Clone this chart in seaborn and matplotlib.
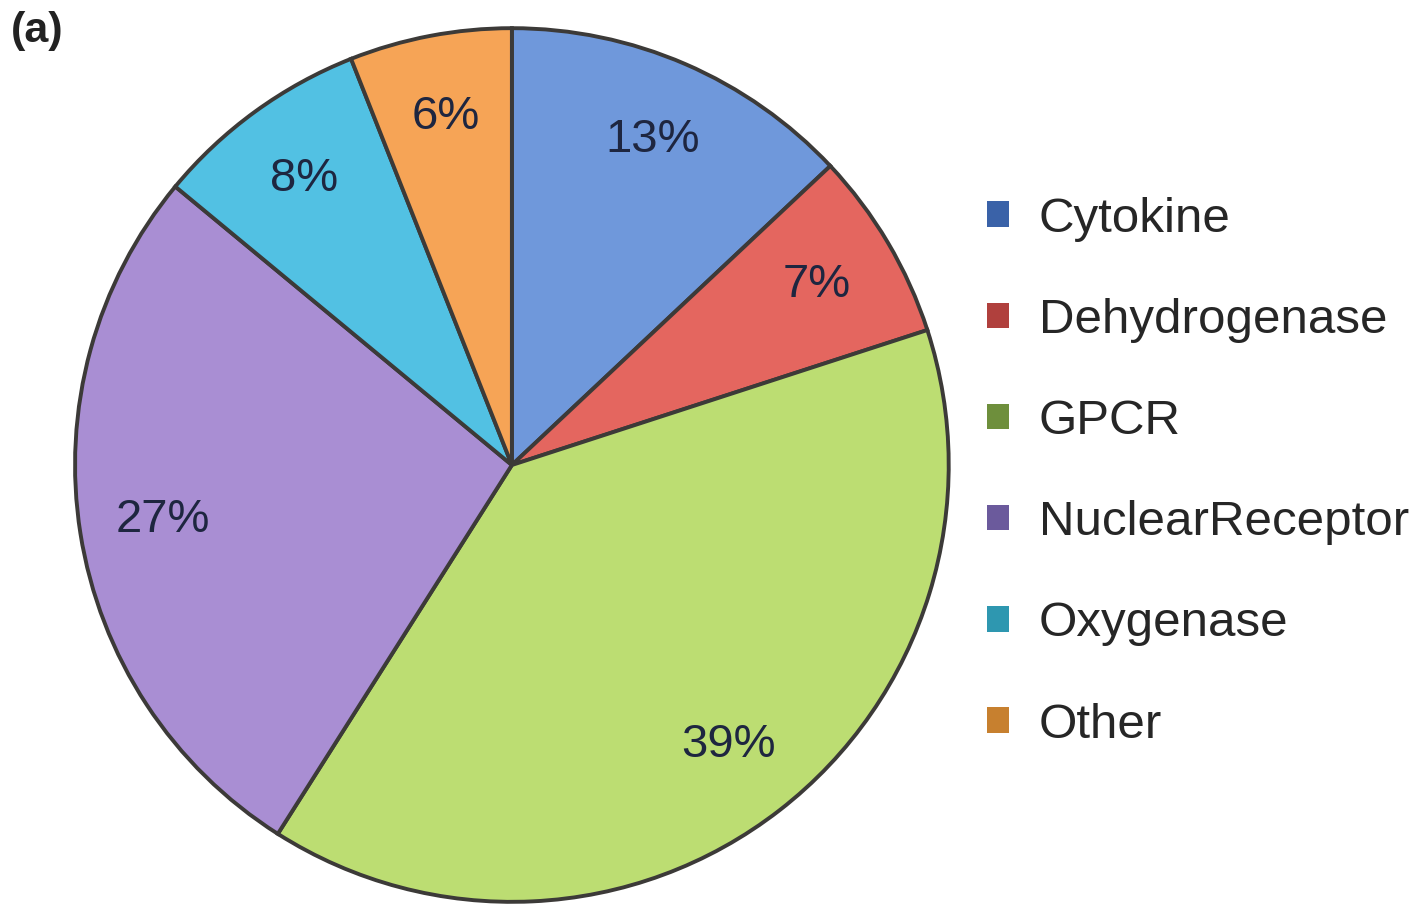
import matplotlib
matplotlib.use("Agg")
import matplotlib.pyplot as plt
import matplotlib.patches as mpatches
import seaborn as sns

categories = ["Cytokine", "Dehydrogenase", "GPCR", "NuclearReceptor", "Oxygenase", "Other"]
shares = [13, 7, 39, 27, 8, 6]
slice_colors = ["#6F98DB", "#E4665F", "#BCDD72", "#A98ED3", "#52C1E3", "#F6A456"]
legend_colors = ["#3A62A8", "#B0403D", "#6E8F3C", "#6B5A9C", "#2E97B0", "#C7802F"]

sns.set_theme(style="white")
plt.rcParams["font.family"] = ["Liberation Sans", "DejaVu Sans"]

fig = plt.figure(figsize=(14.16, 9.19), dpi=100)
ax = fig.add_axes([0.053, 0.0185, 0.617, 0.951])

wedges, texts, autotexts = ax.pie(
    shares,
    startangle=90,
    counterclock=False,
    colors=slice_colors,
    autopct=lambda p: f"{p:.0f}%",
    pctdistance=0.81,
    wedgeprops=dict(edgecolor="#3C3A38", linewidth=2.8),
    textprops=dict(fontsize=34, color="#1E2640"),
)
ax.set_aspect("equal")
ax.set_xlim(-1.0, 1.0)
ax.set_ylim(-1.0, 1.0)
ax.axis("off")

handles = [mpatches.Patch(facecolor=c, edgecolor="none", label=l)
           for c, l in zip(legend_colors, categories)]
fig.legend(handles=handles, loc="upper left", bbox_to_anchor=(0.697, 0.786),
           frameon=False, fontsize=35.5, handlelength=0.45, handleheight=0.42,
           handletextpad=0.6, labelspacing=1.14, borderaxespad=0, borderpad=0)

fig.text(0.008, 0.988, "(a)", fontsize=31, fontweight="bold", color="#222222",
         ha="left", va="top")

fig.savefig("out.png", dpi=100, facecolor="white")
